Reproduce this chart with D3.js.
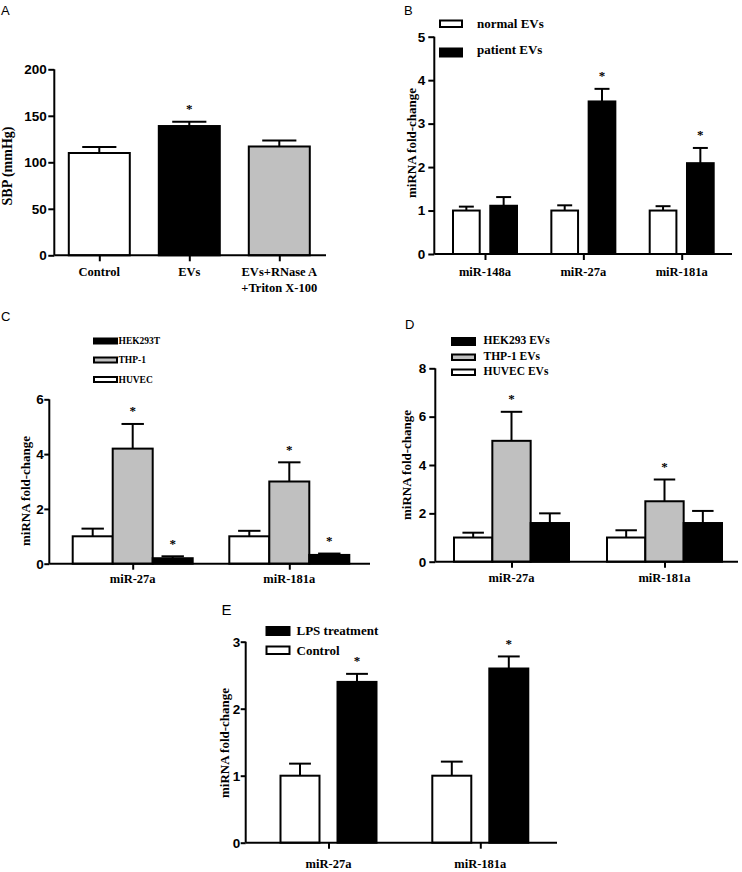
<!DOCTYPE html>
<html><head><meta charset="utf-8">
<script src="https://cdn.jsdelivr.net/npm/d3@7/dist/d3.min.js"></script>
<style>body{margin:0;background:#fff} svg{display:block}</style>
</head><body>
<svg id="chart" width="742" height="872"></svg>
<script>
// ---------- DATA ----------
// Panel A
const aCategories = ["Control", "EVs", "EVs+RNase A|+Triton X-100"];
const aValues = [110, 139, 117];
const aErrors = [6.5, 4.5, 6.5];
const aSig = [false, true, false];
const aTicks = [0, 50, 100, 150, 200];

// Panel B
const bCategories = ["miR-148a", "miR-27a", "miR-181a"];
const bNormal = [1.0, 1.0, 1.0];
const bNormalErr = [0.09, 0.12, 0.1];
const bNormalSig = [false, false, false];
const bPatient = [1.11, 3.51, 2.09];
const bPatientErr = [0.2, 0.29, 0.35];
const bPatientSig = [false, true, true];
const bTicks = [0, 1, 2, 3, 4, 5];

// Panel C
const cCategories = ["miR-27a", "miR-181a"];
const cHUVEC = [1.0, 1.0];
const cHUVECErr = [0.28, 0.2];
const cTHP1 = [4.2, 3.0];
const cTHP1Err = [0.9, 0.7];
const cHEK = [0.2, 0.32];
const cHEKErr = [0.07, 0.05];
const cHUVECSig = [false, false];
const cTHP1Sig = [true, true];
const cHEKSig = [true, true];
const cTicks = [0, 2, 4, 6];

// Panel D
const dCategories = ["miR-27a", "miR-181a"];
const dHUVEC = [1.0, 1.0];
const dHUVECErr = [0.2, 0.3];
const dTHP1 = [5.0, 2.5];
const dTHP1Err = [1.2, 0.9];
const dHEK = [1.6, 1.6];
const dHEKErr = [0.4, 0.5];
const dHUVECSig = [false, false];
const dTHP1Sig = [true, true];
const dHEKSig = [false, false];
const dTicks = [0, 2, 4, 6, 8];

// Panel E
const eCategories = ["miR-27a", "miR-181a"];
const eControl = [1.0, 1.0];
const eControlErr = [0.18, 0.21];
const eLPS = [2.4, 2.6];
const eLPSErr = [0.12, 0.18];
const eControlSig = [false, false];
const eLPSSig = [true, true];
const eTicks = [0, 1, 2, 3];

// ---------- STYLE ----------
const WHITE = "#ffffff", BLACK = "#000000", GREY = "#c0c0c0";
const SERIF = "'Liberation Serif','Times New Roman',serif";
const SANS = "'Liberation Sans',Arial,sans-serif";

const svg = d3.select("#chart");

function drawPanel(p) {
  const g = svg.append("g");
  const y = d3.scaleLinear().domain(p.domain).range([p.yBot, p.yTop]);
  const x = d3.scalePoint().domain(p.categories).range(p.pointRange);
  const inner = d3.scaleBand().domain(p.series.map(s => s.name))
    .range(p.innerRange).paddingInner(p.innerPad);
  const bw = inner.bandwidth();
  const capW = bw * 0.56;

  // bars
  p.series.forEach(s => {
    const sg = g.append("g");
    p.categories.forEach((c, i) => {
      const v = s.values[i], e = s.errors[i];
      const bx = x(c) + inner(s.name);
      const cx = bx + bw / 2;
      const fill = Array.isArray(s.fill) ? s.fill[i] : s.fill;
      sg.append("rect")
        .attr("x", bx).attr("y", y(v))
        .attr("width", bw).attr("height", y(0) - y(v))
        .attr("fill", fill).attr("stroke", BLACK).attr("stroke-width", 2);
      sg.append("line").attr("x1", cx).attr("x2", cx)
        .attr("y1", y(v)).attr("y2", y(v + e))
        .attr("stroke", BLACK).attr("stroke-width", 2);
      sg.append("line").attr("x1", cx - capW / 2).attr("x2", cx + capW / 2)
        .attr("y1", y(v + e)).attr("y2", y(v + e))
        .attr("stroke", BLACK).attr("stroke-width", 2);
      if (s.sig[i]) {
        sg.append("text").attr("x", cx).attr("y", y(v + e) - 8.5)
          .attr("text-anchor", "middle").attr("fill", BLACK)
          .attr("font-family", SERIF).attr("font-weight", "bold")
          .attr("font-size", 13).text("*");
      }
    });
  });

  // y axis
  const yAxis = d3.axisLeft(y).tickValues(p.ticks).tickFormat(d3.format("d"))
    .tickSize(p.yTick || 6).tickSizeOuter(0).tickPadding(p.yPad);
  const ya = g.append("g").attr("transform", `translate(${p.xLeft},0)`).call(yAxis);
  ya.selectAll("path,line").attr("stroke", BLACK).attr("stroke-width", 2);
  ya.select(".domain").attr("d", `M0,${p.yTop}V${p.yBot}`);
  ya.selectAll("text").attr("font-family", SANS).attr("font-weight", "bold")
    .attr("font-size", 13.5).attr("fill", BLACK);

  // x axis
  const xAxis = d3.axisBottom(x).tickSize(6).tickSizeOuter(0).tickFormat("");
  const xa = g.append("g").attr("transform", `translate(0,${p.yBot})`).call(xAxis);
  xa.select(".domain").attr("d", `M${p.xLeft},0H${p.xRight}`);
  xa.selectAll("path,line").attr("stroke", BLACK).attr("stroke-width", 2);
  // category labels
  p.categories.forEach(c => {
    const lines = c.split("|");
    const t = g.append("text").attr("text-anchor", "middle")
      .attr("font-family", SERIF).attr("font-weight", "bold")
      .attr("font-size", 12.5);
    lines.forEach((ln, k) => {
      t.append("tspan").attr("x", x(c)).attr("y", p.yBot + p.labelOff + k * 15.5).text(ln);
    });
  });

  // y title
  g.append("text")
    .attr("transform", `translate(${p.titleX},${p.titleY}) rotate(-90)`)
    .attr("text-anchor", "middle").attr("dy", "0.35em")
    .attr("font-family", SERIF).attr("font-weight", "bold")
    .attr("font-size", p.titleSize || 13).text(p.title);

  // panel letter
  g.append("text").attr("x", p.letterX).attr("y", p.letterY)
    .attr("font-family", SANS).attr("font-size", p.letterSize || 13).text(p.letter);

  // legend
  if (p.legend) {
    p.legend.items.forEach(it => {
      g.append("rect").attr("x", p.legend.x).attr("y", it.y)
        .attr("width", p.legend.w).attr("height", it.h)
        .attr("fill", it.fill).attr("stroke", BLACK).attr("stroke-width", 2);
      g.append("text").attr("x", p.legend.tx).attr("y", it.ty)
        .attr("font-family", SERIF).attr("font-weight", "bold")
        .attr("font-size", p.legend.size).text(it.label);
    });
  }
}

// Panel A
drawPanel({
  categories: aCategories, domain: [0, 200], ticks: aTicks,
  series: [{ name: "SBP", values: aValues, errors: aErrors, sig: aSig, fill: [WHITE, BLACK, GREY] }],
  xLeft: 54.3, xRight: 326, yTop: 69.3, yBot: 255.3,
  pointRange: [99.3, 279.3], innerRange: [-30.5, 30.5], innerPad: 0,
  labelOff: 21, yPad: 1.5, title: "SBP (mmHg)", titleX: 7.5, titleY: 166, titleSize: 14,
  letter: "A", letterX: 1, letterY: 15
});

// Panel B
drawPanel({
  categories: bCategories, domain: [0, 5], ticks: bTicks,
  series: [
    { name: "normal EVs", values: bNormal, errors: bNormalErr, sig: bNormalSig, fill: WHITE },
    { name: "patient EVs", values: bPatient, errors: bPatientErr, sig: bPatientSig, fill: BLACK }
  ],
  xLeft: 434.3, xRight: 732, yTop: 36.7, yBot: 254,
  pointRange: [485, 681.7], innerRange: [-32, 32], innerPad: 0.284,
  labelOff: 22, yPad: 3, title: "miRNA fold-change", titleX: 411.5, titleY: 143,
  letter: "B", letterX: 404, letterY: 15,
  legend: { x: 440, w: 22, tx: 477, size: 13, items: [
    { y: 20.5, h: 6.5, ty: 27.5, fill: WHITE, label: "normal EVs" },
    { y: 48.5, h: 8, ty: 54, fill: BLACK, label: "patient EVs" }
  ] }
});

// Panel C
drawPanel({
  categories: cCategories, domain: [0, 6], ticks: cTicks,
  series: [
    { name: "HUVEC", values: cHUVEC, errors: cHUVECErr, sig: cHUVECSig, fill: WHITE },
    { name: "THP-1", values: cTHP1, errors: cTHP1Err, sig: cTHP1Sig, fill: GREY },
    { name: "HEK293T", values: cHEK, errors: cHEKErr, sig: cHEKSig, fill: BLACK }
  ],
  xLeft: 49.3, xRight: 370, yTop: 399.3, yBot: 563.7,
  pointRange: [132.7, 289.3], innerRange: [-60, 60], innerPad: 0,
  labelOff: 19.5, yPad: 0.5, yTick: 5, title: "miRNA fold-change", titleX: 25.5, titleY: 491,
  letter: "C", letterX: 1, letterY: 321,
  legend: { x: 94, w: 23, tx: 118.5, size: 9.5, items: [
    { y: 338.5, h: 5, ty: 344, fill: BLACK, label: "HEK293T" },
    { y: 357.5, h: 5, ty: 363, fill: GREY, label: "THP-1" },
    { y: 377, h: 5, ty: 383, fill: WHITE, label: "HUVEC" }
  ] }
});

// Panel D
drawPanel({
  categories: dCategories, domain: [0, 8], ticks: dTicks,
  series: [
    { name: "HUVEC EVs", values: dHUVEC, errors: dHUVECErr, sig: dHUVECSig, fill: WHITE },
    { name: "THP-1 EVs", values: dTHP1, errors: dTHP1Err, sig: dTHP1Sig, fill: GREY },
    { name: "HEK293 EVs", values: dHEK, errors: dHEKErr, sig: dHEKSig, fill: BLACK }
  ],
  xLeft: 435.3, xRight: 738, yTop: 368.3, yBot: 561.7,
  pointRange: [511.5, 664.5], innerRange: [-57.5, 57.5], innerPad: 0,
  labelOff: 20, yPad: 3, title: "miRNA fold-change", titleX: 406, titleY: 465,
  letter: "D", letterX: 405, letterY: 328.5,
  legend: { x: 452, w: 23, tx: 483.5, size: 11.5, items: [
    { y: 338, h: 7, ty: 343.5, fill: BLACK, label: "HEK293 EVs" },
    { y: 354.5, h: 5.5, ty: 360, fill: GREY, label: "THP-1 EVs" },
    { y: 369.5, h: 5.5, ty: 375, fill: WHITE, label: "HUVEC EVs" }
  ] }
});

// Panel E
drawPanel({
  categories: eCategories, domain: [0, 3], ticks: eTicks,
  series: [
    { name: "Control", values: eControl, errors: eControlErr, sig: eControlSig, fill: WHITE },
    { name: "LPS treatment", values: eLPS, errors: eLPSErr, sig: eLPSSig, fill: BLACK }
  ],
  xLeft: 245.7, xRight: 557, yTop: 641.7, yBot: 842.7,
  pointRange: [328.5, 480.3], innerRange: [-48, 48], innerPad: 0.316,
  labelOff: 25.5, yPad: 0.5, yTick: 5, title: "miRNA fold-change", titleX: 224, titleY: 743,
  letter: "E", letterX: 221.5, letterY: 615, letterSize: 15,
  legend: { x: 266.5, w: 23, tx: 296.5, size: 13, items: [
    { y: 627, h: 8, ty: 635, fill: BLACK, label: "LPS treatment" },
    { y: 646.5, h: 7.5, ty: 655, fill: WHITE, label: "Control" }
  ] }
});
</script>
</body></html>
